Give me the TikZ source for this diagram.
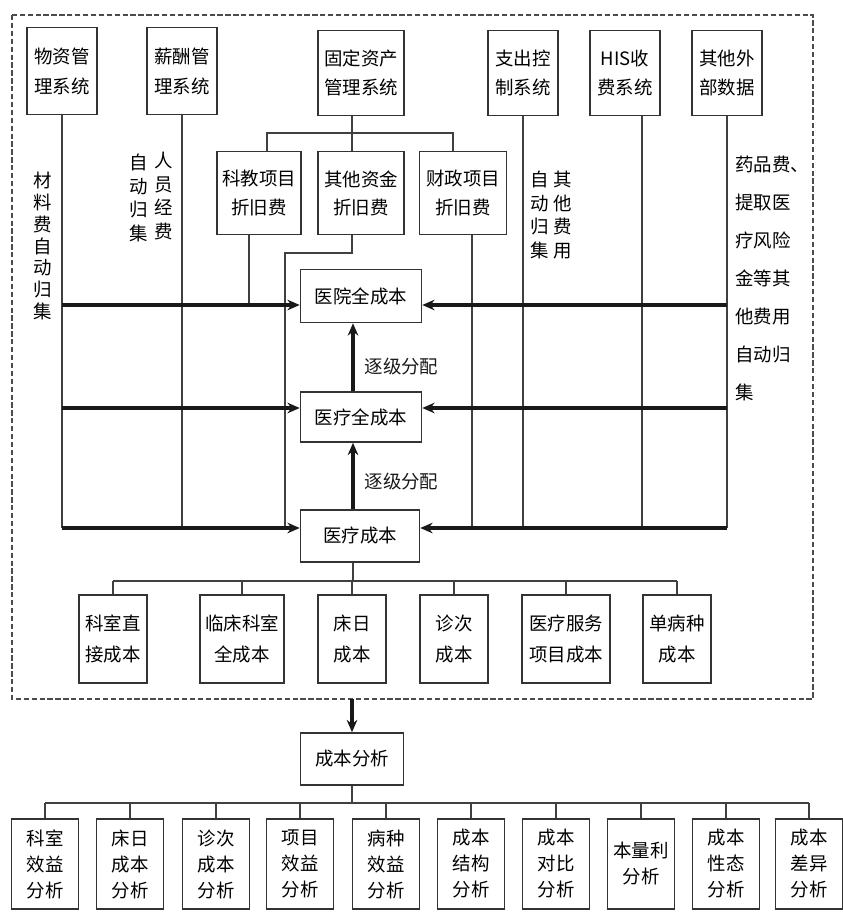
\documentclass[tikz,border=0pt]{standalone}
\usepackage{fontspec}
\setmainfont{Noto Sans CJK SC}
\usetikzlibrary{arrows.meta,positioning}

\begin{document}
\begin{tikzpicture}[
				x=0.02cm, y=-0.02cm,
				font=\fontsize{10.5}{15}\selectfont,
				>=Stealth,
				sysbox/.style={
					rectangle, draw=black!80, line width=0.9pt, fill=white,
					align=center, inner sep=1pt,
					minimum width=1.4cm, minimum height=1.74cm,
					font=\fontsize{10.5}{17}\selectfont
				},
				depbox/.style={
					rectangle, draw=black!80, line width=0.9pt, fill=white,
					align=center, inner sep=1pt,
					minimum width=1.72cm, minimum height=1.66cm,
					font=\fontsize{10.5}{16}\selectfont
				},
				costbox/.style={
					rectangle, draw=black!80, line width=0.9pt, fill=white,
					align=center, inner sep=1pt,
					minimum width=2.42cm, minimum height=1.04cm
				},
				kindbox/.style={
					rectangle, draw=black!80, line width=0.9pt, fill=white,
					align=center, inner sep=1pt,
					minimum width=1.36cm, minimum height=1.76cm,
					font=\fontsize{10.5}{18}\selectfont
				},
				anabox/.style={
					rectangle, draw=black!80, line width=0.9pt, fill=white,
					align=center, inner sep=1pt,
					minimum width=1.34cm, minimum height=1.8cm,
					font=\fontsize{10.5}{14.8}\selectfont
				},
				vlbl/.style={align=center, inner sep=0pt, font=\fontsize{10.5}{13.5}\selectfont},
				link/.style={draw=black!75, line width=0.9pt},
				feed/.style={-{Stealth[length=7pt,width=6pt]}, line width=1.8pt, black!90},
				frame/.style={draw=black!70, line width=0.9pt, dash pattern=on 3pt off 1.5pt},
				lbl/.style={inner sep=0pt}
				]
				\useasboundingbox (0,0) rectangle (842,912);
				% outer dashed frame
				\coordinate (fa) at (12,15);
				\coordinate (fb) at (813,699);
				\draw[frame] (fa) rectangle (fb);
				
				% source systems
				\node[sysbox] (wuzi) at (62,71) {物资管\\理系统};
				\node[sysbox] (xinchou) at (182,71) {薪酬管\\理系统};
				\node[sysbox, minimum width=1.72cm, minimum height=1.7cm] (guding) at (361,73) {固定资产\\管理系统};
				\node[sysbox, minimum height=1.7cm] (zhichu) at (523,73) {支出控\\制系统};
				\node[sysbox, minimum height=1.7cm] (his) at (625,73) {HIS收\\费系统};
				\node[sysbox, minimum height=1.7cm] (waibu) at (727,73) {其他外\\部数据};
				
				% depreciation
				\node[depbox, minimum width=1.68cm] (kejiao) at (259,193) {科教项目\\折旧费};
				\node[depbox] (qita) at (361,193) {其他资金\\折旧费};
				\node[depbox, minimum width=1.74cm] (caizheng) at (463,193) {财政项目\\折旧费};
				
				% cost levels
				\node[costbox, minimum height=1.06cm] (yuanquan) at (361,296) {医院全成本};
				\node[costbox, minimum height=1.0cm] (ylquan) at (361,417) {医疗全成本};
				\node[costbox, minimum width=2.38cm] (ylcb) at (360,536) {医疗成本};
				
				\coordinate (r1) at (0,305);
				\coordinate (r2) at (0,408);
				\coordinate (r3) at (0,528);
				\coordinate (cx) at (353,0);
				
				% thin feeders
				\draw[link] (wuzi.south) -- (wuzi.south |- r3);
				\draw[link] (xinchou.south) -- (xinchou.south |- r3);
				\coordinate (gb) at (352,133);
				\draw[link] (guding.south -| gb) -- (gb);
				\draw[link] ([xshift=0.16cm]kejiao.north) |- (gb) -| ([xshift=-0.2cm]caizheng.north);
				\draw[link] (gb) -- (qita.north -| gb);
				\draw[link] ([xshift=-0.2cm]kejiao.south) -- ([xshift=-0.2cm]kejiao.south |- r1);
				\coordinate (qk) at (285,253);
				\draw[link] (qita.south -| gb) |- (qk) -- (qk |- r3);
				\draw[link] ([xshift=0.18cm]caizheng.south) -- ([xshift=0.18cm]caizheng.south |- r3);
				\draw[link] (zhichu.south) -- (zhichu.south |- r3);
				\draw[link] ([xshift=0.34cm]his.south) -- ([xshift=0.34cm]his.south |- r3);
				\draw[link] (waibu.south) -- (waibu.south |- r3);
				
				% collection arrows
				\foreach \r/\n in {r1/yuanquan, r2/ylquan, r3/ylcb} {
					\draw[feed] (wuzi.south |- \r) -- (\n.west |- \r);
					\draw[feed] (waibu.south |- \r) -- (\n.east |- \r);
				}
				\draw[feed] (ylquan.north -| cx) -- node[lbl, pos=0.36, right=0.2cm] {逐级分配} (yuanquan.south -| cx);
				\draw[feed] (ylcb.north -| cx) -- node[lbl, pos=0.41, right=0.2cm] {逐级分配} (ylquan.south -| cx);
				
				% side labels
				\node[vlbl, font=\fontsize{10.5}{12.5}\selectfont] (lmat) at (43,246) {材\\料\\费\\自\\动\\归\\集};
				\node[vlbl] (lren) at (164,196) {人\\员\\经\\费};
				\node[vlbl] (lrenzd) at (139,198) {自\\动\\归\\集};
				\node[vlbl] (lqt) at (563,215) {其\\他\\费\\用};
				\node[vlbl] (lqtzd) at (540,215) {自\\动\\归\\集};
				\node[lbl, align=left, anchor=north west, font=\fontsize{10.5}{21.6}\selectfont] (lyao) at (735,156) {药品费、\\提取医\\疗风险\\金等其\\他费用\\自动归\\集};
				
				% cost objects
				\coordinate (kb) at (0,581);
				\node[kindbox] (k1) at (113,639) {科室直\\接成本};
				\node[kindbox, minimum width=1.68cm] (k2) at (242,639) {临床科室\\全成本};
				\node[kindbox] (k3) at (352,639) {床日\\成本};
				\node[kindbox] (k4) at (454,639) {诊次\\成本};
				\node[kindbox, minimum width=1.76cm] (k5) at (566,639) {医疗服务\\项目成本};
				\node[kindbox] (k6) at (677,639) {单病种\\成本};
				\draw[link] (ylcb.south -| cx) -- (cx |- kb);
				\draw[link] (k1.north |- kb) -- (k6.north |- kb);
				\foreach \k in {k1,k2,k3,k4,k5,k6}
					\draw[link] (\k.north |- kb) -- (\k.north);
				
				% analysis
				\node[costbox, minimum width=2.06cm] (fenxi) at (352,759) {成本分析};
				\draw[feed] (fenxi.north |- fb) -- (fenxi.north);
				\coordinate (ab) at (0,803);
				\foreach \i/\x/\t in {1/45/{科室\\效益\\分析}, 2/130/{床日\\成本\\分析}, 3/216/{诊次\\成本\\分析},
					4/300/{项目\\效益\\分析}, 5/386/{病种\\效益\\分析}, 6/471/{成本\\结构\\分析},
					7/556/{成本\\对比\\分析}, 8/641/{本量利\\分析}, 9/726/{成本\\性态\\分析}, 10/809/{成本\\差异\\分析}}
					\node[anabox] (a\i) at (\x,864) {\t};
				\draw[link] (fenxi.south) -- (fenxi.south |- ab);
				\draw[link] (a1.north |- ab) -- (a10.north |- ab);
				\foreach \i in {1,...,10}
					\draw[link] (a\i.north |- ab) -- (a\i.north);
		\end{tikzpicture}
\end{document}
